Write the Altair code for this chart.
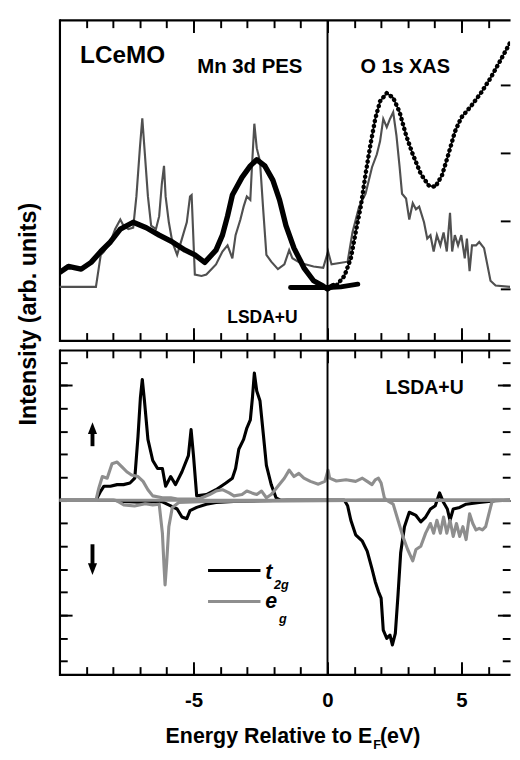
import altair as alt
import pandas as pd

FONT = "Liberation Sans"

# ---------------- data ----------------
calc_e = [-10.0, -8.64, -8.46, -8.34, -8.10, -7.92, -7.73, -7.61, -7.43, -7.25, -7.13, -7.00, -6.91,
          -6.83, -6.70, -6.58, -6.40, -6.28, -6.18, -6.10, -6.04, -5.92, -5.79, -5.61, -5.43, -5.25,
          -5.13, -5.07, -5.02, -4.95, -4.70, -4.52, -4.16, -3.92, -3.73, -3.55, -3.43, -3.25, -3.13,
          -3.01, -2.88, -2.82, -2.73, -2.64, -2.52, -2.40, -2.28, -2.10, -1.85, -1.61, -1.43, -1.31,
          -1.01, -0.52, -0.16, 0.02, 0.15, 0.45, 0.75, 0.93, 1.18, 1.42, 1.66, 1.84, 1.96, 2.08, 2.21,
          2.33, 2.45, 2.57, 2.69, 2.78, 2.93, 3.05, 3.18, 3.30, 3.42, 3.60, 3.72, 3.84, 3.96, 4.08,
          4.21, 4.33, 4.45, 4.57, 4.65, 4.75, 4.87, 4.99, 5.12, 5.20, 5.30, 5.39, 5.54, 5.66, 5.84,
          5.96, 6.08, 6.27, 6.81]
calc_v = [0.03, 0.03, 0.50, 0.55, 0.69, 0.88, 1.02, 0.93, 0.88, 0.90, 1.36, 2.07, 2.51,
          2.07, 1.36, 0.93, 0.88, 1.07, 1.55, 1.81, 1.36, 0.98, 0.69, 0.50, 0.74, 0.98,
          1.36, 1.38, 0.90, 0.21, 0.19, 0.21, 0.36, 0.55, 0.64, 0.45, 0.79, 1.02, 1.21,
          1.36, 1.31, 1.79, 2.43, 2.07, 1.88, 1.17, 0.50, 0.40, 0.29, 0.36, 0.57, 0.45,
          0.38, 0.33, 0.31, 0.55, 0.36, 0.38, 0.40, 0.83, 1.21, 1.40, 1.79, 1.98, 2.17, 2.50, 2.38,
          2.50, 2.60, 2.26, 1.79, 1.40, 1.33, 1.02, 1.26, 1.17, 1.21, 0.98, 0.74, 0.79, 0.55, 0.79,
          0.64, 0.83, 0.55, 1.12, 0.55, 0.79, 0.64, 0.79, 0.45, 0.74, 0.26, 0.64, 0.64, 0.69, 0.60,
          0.36, 0.12, 0.05, 0.03]

pes_e = [-10.0, -9.67, -9.19, -8.82, -8.46, -8.10, -7.73, -7.25, -6.76, -6.28, -5.79, -5.31, -4.95,
         -4.58, -4.16, -3.92, -3.73, -3.55, -3.19, -2.88, -2.64, -2.34, -2.04, -1.79, -1.55, -1.25,
         -0.88, -0.52, -0.16, 0.0, 0.21]
pes_v = [0.24, 0.33, 0.29, 0.39, 0.55, 0.69, 0.88, 0.98, 0.90, 0.79, 0.69, 0.57, 0.50,
         0.39, 0.57, 0.79, 1.07, 1.38, 1.64, 1.81, 1.90, 1.81, 1.60, 1.31, 0.93, 0.60,
         0.31, 0.12, 0.04, 0.0, 0.05]

flat_e = [-1.38, 0.0, 0.5, 1.13]
flat_v = [0.02, 0.02, 0.03, 0.07]

xas_e = [0.0, 0.33, 0.63, 0.87, 1.05, 1.24, 1.42, 1.60, 1.78, 1.96, 2.21, 2.45, 2.69, 2.93, 3.18,
         3.48, 3.78, 4.02, 4.27, 4.51, 4.75, 4.99, 5.36, 5.72, 6.08, 6.45, 6.81]
xas_v = [0.0, 0.05, 0.19, 0.45, 0.83, 1.21, 1.69, 2.12, 2.50, 2.76, 2.88, 2.81, 2.60, 2.26, 1.98,
         1.69, 1.52, 1.50, 1.67, 1.98, 2.31, 2.52, 2.69, 2.88, 3.10, 3.36, 3.62]

t2g_up_e = [-10.0, -8.64, -8.46, -8.34, -8.10, -7.85, -7.61, -7.37, -7.19, -7.07, -6.98, -6.91, -6.83,
            -6.70, -6.52, -6.34, -6.16, -6.04, -5.85, -5.67, -5.43, -5.19, -5.09, -5.00, -4.88, -4.52,
            -4.16, -3.79, -3.55, -3.43, -3.31, -3.13, -3.01, -2.88, -2.80, -2.73, -2.64, -2.52, -2.40,
            -2.28, -2.10, -1.92, -1.75, 6.81]
t2g_up_v = [0, 0, 0.40, 0.61, 0.61, 0.68, 0.68, 0.75, 0.96, 2.78, 4.47, 5.25, 4.33,
            2.65, 1.73, 1.38, 1.38, 0.61, 1.03, 0.68, 1.24, 1.94, 3.07, 1.94, 0.19, 0.25,
            0.46, 0.75, 0.96, 1.38, 2.22, 2.65, 3.14, 3.49, 4.47, 5.53, 4.75, 4.33, 2.93,
            1.52, 0.68, 0.11, 0, 0]

t2g_dn_e = [-10.0, -8.0, -7.6, -7.0, -6.2, -5.85, -5.61, -5.43, -5.25, -5.13, -4.88, -4.52, -4.16,
            -3.5, -2.5, -1.5, 0.63, 0.75, 0.87, 1.05, 1.30, 1.48, 1.66, 1.78, 1.90, 2.00, 2.08, 2.21,
            2.33, 2.42, 2.53, 2.63, 2.73, 2.87, 3.05, 3.30, 3.48, 3.66, 3.84, 4.02, 4.18, 4.33, 4.47,
            4.57, 4.69, 4.93, 5.17, 5.66, 6.27, 6.81]
t2g_dn_v = [0, 0, -0.05, -0.08, -0.05, -0.24, -0.38, -0.73, -0.80, -0.45, -0.31, -0.17, -0.10,
            -0.05, -0.02, 0, 0, -0.24, -0.87, -1.50, -1.78, -2.21, -2.98, -3.54, -3.97, -4.25, -5.65, -6.00,
            -5.86, -6.29, -5.79, -4.11, -2.28, -1.15, -0.52, -0.66, -0.94, -0.73, -0.38, -0.24, 0.32, -0.10, -0.38,
            -0.87, -0.38, -0.31, -0.17, -0.10, -0.02, 0]

eg_up_e = [-10.0, -8.64, -8.53, -8.40, -8.22, -8.04, -7.85, -7.67, -7.49, -7.31, -7.07, -6.88, -6.70,
           -6.52, -6.16, -5.85, -5.6, -4.8, -4.40, -4.16, -3.92, -3.67, -3.49, -3.19, -3.01, -2.82,
           -2.64, -2.46, -2.28, -2.10, -1.85, -1.61, -1.43, -1.25, -1.07, -0.88, -0.64, -0.34, -0.10,
           0.02, 0.08, 0.33, 0.69, 1.05, 1.30, 1.48, 1.66, 1.78, 1.90, 2.00, 2.12, 2.2, 6.81]
eg_up_v = [0, 0, 0.54, 1.03, 0.96, 1.59, 1.66, 1.45, 1.24, 1.10, 1.03, 0.82, 0.46,
           0.19, 0.11, 0.11, 0.05, 0.05, 0.25, 0.40, 0.46, 0.32, 0.19, 0.25, 0.40, 0.32,
           0.25, 0.40, 0.11, 0.25, 0.61, 0.96, 1.31, 1.03, 1.17, 0.96, 0.82, 0.70, 0.82,
           1.31, 0.96, 0.84, 0.89, 0.82, 0.96, 0.82, 0.68, 0.89, 0.96, 0.75, 0.11, 0, 0]

eg_dn_e = [-10.0, -7.9, -7.6, -7.2, -6.8, -6.52, -6.28, -6.16, -6.10, -6.06, -6.00, -5.92, -5.79,
           -5.55, -4.5, 2.2, 2.45, 2.63, 2.81, 2.99, 3.18, 3.30, 3.48, 3.66, 3.84, 3.96, 4.08, 4.21,
           4.33, 4.45, 4.57, 4.69, 4.81, 4.93, 5.05, 5.17, 5.30, 5.42, 5.54, 5.66, 5.78, 5.90, 6.02,
           6.15, 6.81]
eg_dn_v = [0, 0, -0.20, -0.25, -0.15, -0.20, -0.17, -1.43, -2.84, -3.68, -2.70, -1.15, -0.31,
           -0.10, -0.05, 0, -0.17, -0.87, -1.57, -2.14, -2.63, -2.14, -2.00, -1.43, -1.01, -1.43, -0.87, -1.43,
           -0.73, -1.43, -0.87, -1.57, -1.01, -1.57, -1.15, -1.71, -0.59, -1.01, -1.29, -1.22, -1.29, -1.15, -0.59,
           0, 0]

x_ticks = list(range(-9, 7))
x_major = [-5, 0, 5]
x_labels = [-5, 0, 5]
top_y_ticks = [0, 1, 2, 3]
bot_y_ticks = list(range(-7, 7))
bot_y_major = [-5, 5]

# ---------------- layout constants ----------------
W = 464
TOP_H = 330
BOT_H = 334
X_DOM = [-10.0, 6.81]
TOP_DOM = [-0.757, 3.957]
BOT_DOM = [-7.57, 6.53]
GREY_TOP = "#505050"
GREY_BOT = "#8e8e8e"

xs = alt.Scale(domain=X_DOM, nice=False, zero=False)
ys_top = alt.Scale(domain=TOP_DOM, nice=False, zero=False)
ys_bot = alt.Scale(domain=BOT_DOM, nice=False, zero=False)

anchor = pd.DataFrame({"e": [0.0], "v": [0.0]})
one = pd.DataFrame({"k": [0]})


def series(e, v, ys, **mark):
    df = pd.DataFrame({"e": e, "v": v})
    return alt.Chart(df).mark_line(clip=True, **mark).encode(
        x=alt.X("e:Q", scale=xs, axis=None),
        y=alt.Y("v:Q", scale=ys, axis=None),
    )


def axis_layer(ys, xaxis=None, yaxis=None):
    return alt.Chart(anchor).mark_point(opacity=0).encode(
        x=alt.X("e:Q", scale=xs, axis=xaxis),
        y=alt.Y("v:Q", scale=ys, axis=yaxis),
    )


def dom_axis(orient, **kw):
    kw.setdefault("title", None)
    return alt.Axis(orient=orient, domain=True, domainColor="black", domainWidth=2.2,
                    ticks=False, labels=False, grid=False, **kw)


def tick_axis(orient, values, size):
    return alt.Axis(orient=orient, domain=False, ticks=True, tickSize=size, offset=-size,
                    tickColor="black", tickWidth=2, values=values, labels=False,
                    title=None, grid=False)


def text(t, x, y, size, style="normal", align="center", baseline="alphabetic"):
    return alt.Chart(one).mark_text(text=t, font=FONT, fontSize=size, fontWeight="bold",
                                    fontStyle=style, align=align, baseline=baseline,
                                    color="black").encode(x=alt.value(x), y=alt.value(y))


zero_rule = alt.Chart(anchor).mark_rule(color="black", strokeWidth=2).encode(
    x=alt.X("e:Q", scale=xs, axis=None))

# ---------------- top panel ----------------
top = alt.layer(
    axis_layer(ys_top, xaxis=dom_axis("bottom"),
               yaxis=dom_axis("left", domainCap="square", title="Intensity (arb. units)",
                              titleFont=FONT, titleFontSize=24, titleFontWeight="bold",
                              titleColor="black", titleAngle=270, titleAlign="center",
                              titleBaseline="alphabetic", titleX=-25, titleY=302.5)),
    axis_layer(ys_top, xaxis=dom_axis("top"), yaxis=tick_axis("right", top_y_ticks, 10)),
    axis_layer(ys_top, xaxis=tick_axis("bottom", x_ticks, 8)),
    axis_layer(ys_top, xaxis=tick_axis("top", x_ticks, 8)),
    axis_layer(ys_top, xaxis=tick_axis("bottom", x_major, 13)),
    axis_layer(ys_top, xaxis=tick_axis("top", x_major, 13)),
    series(calc_e, calc_v, ys_top, color=GREY_TOP, strokeWidth=2.2),
    series(pes_e, pes_v, ys_top, color="black", strokeWidth=5.5, strokeJoin="round", strokeCap="round"),
    series(flat_e, flat_v, ys_top, color="black", strokeWidth=5, strokeCap="round"),
    series(xas_e, xas_v, ys_top, color="black", strokeWidth=1.6),
    series(xas_e, xas_v, ys_top, color="black", strokeWidth=4.6, strokeCap="round",
           strokeDash=[0.1, 5.2]),
    zero_rule,
    text("LCeMO", 65, 44, 25),
    text("Mn 3d PES", 196, 55, 21),
    text("O 1s XAS", 356, 55, 20.5),
    text("LSDA+U", 209, 312, 18),
).resolve_axis(x="independent", y="independent").properties(width=W, height=TOP_H)

# ---------------- bottom panel ----------------
bottom = alt.layer(
    axis_layer(ys_bot, xaxis=alt.Axis(orient="bottom", domain=True, domainColor="black",
                                      domainWidth=2.2, ticks=False, tickSize=0, labels=True,
                                      values=x_labels, labelFont=FONT, labelFontSize=21,
                                      labelFontWeight="bold", labelColor="black",
                                      labelPadding=16, labelFlush=False,
                                      labelExpr="datum.value < 0 ? '-' + abs(datum.value) : '' + datum.value",
                                      title=None, grid=False),
               yaxis=dom_axis("left", domainCap="square")),
    axis_layer(ys_bot, xaxis=dom_axis("top"), yaxis=tick_axis("left", bot_y_ticks, 8)),
    axis_layer(ys_bot, xaxis=tick_axis("bottom", x_ticks, 8), yaxis=tick_axis("right", bot_y_ticks, 8)),
    axis_layer(ys_bot, xaxis=tick_axis("top", x_ticks, 8), yaxis=tick_axis("left", bot_y_major, 13)),
    axis_layer(ys_bot, xaxis=tick_axis("bottom", x_major, 13), yaxis=tick_axis("right", bot_y_major, 13)),
    axis_layer(ys_bot, xaxis=tick_axis("top", x_major, 13)),
    series(t2g_dn_e, t2g_dn_v, ys_bot, color="black", strokeWidth=3.2, strokeJoin="round"),
    series(t2g_up_e, t2g_up_v, ys_bot, color="black", strokeWidth=3.2, strokeJoin="round"),
    series(eg_dn_e, eg_dn_v, ys_bot, color=GREY_BOT, strokeWidth=3.2, strokeJoin="round"),
    series(eg_up_e, eg_up_v, ys_bot, color=GREY_BOT, strokeWidth=3.2, strokeJoin="round"),
    alt.Chart(anchor).mark_rule(color=GREY_BOT, strokeWidth=3).encode(
        y=alt.Y("v:Q", scale=ys_bot, axis=None)),
    zero_rule,
    text("LSDA+U", 376, 45, 20),
    # spin arrows
    alt.Chart(one).mark_rule(color="black", strokeWidth=4).encode(
        x=alt.value(34), y=alt.value(84), y2=alt.value(99)),
    alt.Chart(one).mark_point(shape="M0,-1L0.7,0.8L-0.7,0.8Z", filled=True, size=180,
                              color="black", opacity=1).encode(x=alt.value(34), y=alt.value(81)),
    alt.Chart(one).mark_rule(color="black", strokeWidth=4).encode(
        x=alt.value(34), y=alt.value(200), y2=alt.value(221)),
    alt.Chart(one).mark_point(shape="M0,1L0.7,-0.8L-0.7,-0.8Z", filled=True, size=180,
                              color="black", opacity=1).encode(x=alt.value(34), y=alt.value(225)),
    # legend
    alt.Chart(one).mark_rule(color="black", strokeWidth=3.2).encode(
        x=alt.value(153), x2=alt.value(207), y=alt.value(227)),
    alt.Chart(one).mark_rule(color=GREY_BOT, strokeWidth=3.2).encode(
        x=alt.value(153), x2=alt.value(207), y=alt.value(259)),
    text("t", 212, 236, 22, style="italic", align="left"),
    text("2g", 221, 246, 13, style="italic", align="left"),
    text("e", 212, 266, 22, style="italic", align="left"),
    text("g", 226, 281, 13, style="italic", align="left"),
    # x title with subscript
    text("Energy Relative to E", 322, 405, 22, align="right"),
    text("F", 323, 411, 13, align="left"),
    text("(eV)", 330, 405, 22, align="left"),
).resolve_axis(x="independent", y="independent").properties(width=W, height=BOT_H)

chart = alt.vconcat(top, bottom, spacing=10).properties(
    bounds="flush",
    padding={"left": 9, "top": 0, "right": 0, "bottom": 0},
).configure_view(stroke=None).configure_axis(grid=False)

chart.save("out.html", embed_options={"renderer": "svg", "actions": False})
